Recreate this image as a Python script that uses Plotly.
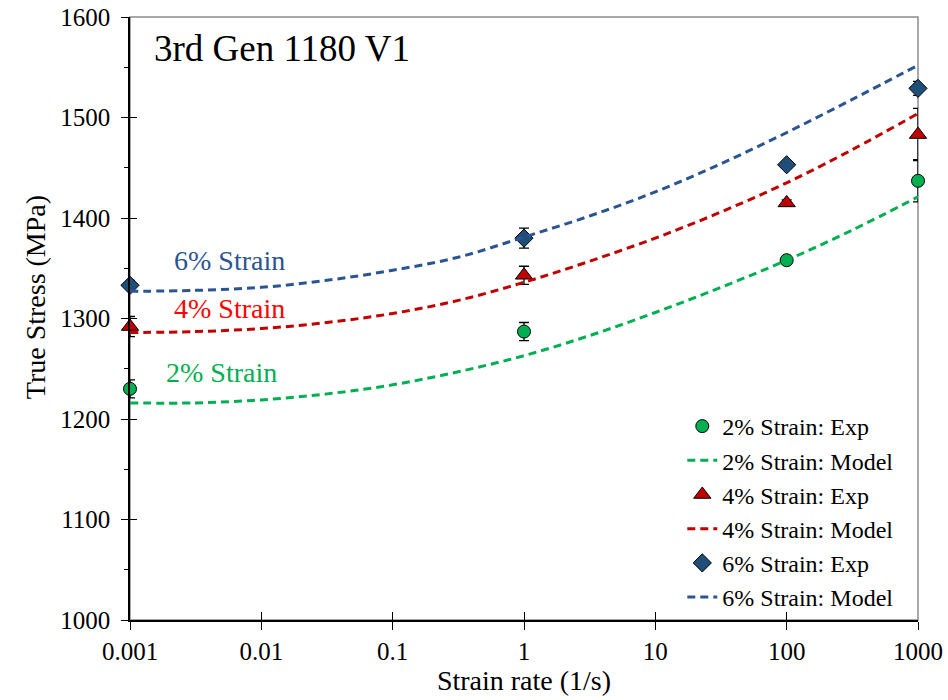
import plotly.graph_objects as go

# Experimental strain rates (1/s) and measured true stress (MPa)
rate_exp = [0.001, 1, 100, 1000]
exp_2 = [1230, 1287, 1358, 1437]
exp_4 = [1292, 1343, 1415, 1483]
exp_6 = [1333, 1380, 1453, 1529]
err_2 = [9, 9, 3, 21]
err_4 = [10, 9, 3, 26]
err_6 = [5, 10, 3, 7]

# Model predictions at half-decade strain rates
rate_model = [0.001, 0.00316, 0.01, 0.0316, 0.1, 0.316, 1, 3.16, 10, 31.6, 100, 316, 1000]
model_2 = [1216, 1216, 1219, 1225, 1234, 1247, 1263, 1283, 1306, 1331, 1358, 1388, 1421]
model_4 = [1286, 1287, 1290, 1296, 1305, 1318, 1336, 1357, 1380, 1406, 1435, 1468, 1504]
model_6 = [1327, 1328, 1331, 1338, 1348, 1361, 1381, 1402, 1426, 1454, 1485, 1518, 1552]

x_ticks = [0.001, 0.01, 0.1, 1, 10, 100, 1000]
x_ticktext = ["0.001", "0.01", "0.1", "1", "10", "100", "1000"]

FONT = "Liberation Serif"
GREEN, RED, BLUE = "#00B050", "#C00000", "#1F4E79"

series = [
    ("2%", exp_2, err_2, model_2, "circle", 13, GREEN, GREEN),
    ("4%", exp_4, err_4, model_4, "triangle-up", 15, RED, RED),
    ("6%", exp_6, err_6, model_6, "diamond", 14, BLUE, "#2B5592"),
]

fig = go.Figure()
for name, ys, errs, model, sym, size, mcol, lcol in series:
    fig.add_trace(go.Scatter(
        x=rate_exp, y=ys, mode="markers", name=f"{name} Strain: Exp", cliponaxis=False,
        marker=dict(symbol=sym, size=size, color=mcol, line=dict(color="black", width=1)),
        error_y=dict(type="data", array=errs, color="black", thickness=1.3, width=5),
    ))
    fig.add_trace(go.Scatter(
        x=rate_model, y=model, mode="lines", name=f"{name} Strain: Model",
        line=dict(color=lcol, width=3, dash="8px,5px", shape="spline"),
    ))

# Empty trace on overlay axes to draw inward halves of the tick marks
fig.add_trace(go.Scatter(x=[], y=[], xaxis="x2", yaxis="y2", showlegend=False, hoverinfo="skip"))

tickfont = dict(family=FONT, size=25, color="black")
fig.update_layout(
    width=948, height=700,
    margin=dict(l=130, r=30, t=17, b=80),
    paper_bgcolor="white", plot_bgcolor="white",
    font=dict(family=FONT, color="black"),
    xaxis=dict(
        type="log", range=[-3, 3], tickvals=x_ticks, ticktext=x_ticktext, automargin=False,
        showgrid=False, zeroline=False, showline=True, linecolor="black", linewidth=1.5,
        ticks="outside", ticklen=8, tickwidth=1.2, tickcolor="black", tickfont=tickfont,
        title=dict(text="Strain rate (1/s)", font=dict(family=FONT, size=28), standoff=4),
    ),
    yaxis=dict(
        range=[1000, 1600], dtick=100, showgrid=False, zeroline=False, automargin=False,
        showline=True, linecolor="black", linewidth=1.5,
        ticks="outside", ticklen=7, tickwidth=1.2, tickcolor="black", tickfont=tickfont,
        ticklabelstandoff=6,
        minor=dict(dtick=50, ticks="outside", ticklen=4, tickcolor="black", tickwidth=1),
    ),
    xaxis2=dict(
        type="log", range=[-3, 3], tickvals=x_ticks, overlaying="x", anchor="y2",
        showticklabels=False, showgrid=False, zeroline=False, showline=False, automargin=False,
        ticks="inside", ticklen=8, tickwidth=1.2, tickcolor="black",
    ),
    yaxis2=dict(
        range=[1000, 1600], dtick=100, overlaying="y", anchor="x2", side="left",
        showticklabels=False, showgrid=False, zeroline=False, showline=False, automargin=False,
        ticks="inside", ticklen=7, tickwidth=1.2, tickcolor="black",
    ),
    legend=dict(
        x=0.975, xanchor="right", y=0.0, yanchor="bottom",
        bgcolor="rgba(0,0,0,0)", font=dict(family=FONT, size=24, color="black"),
        tracegroupgap=0, itemwidth=30,
    ),
    showlegend=True,
    shapes=[dict(
        type="rect", xref="paper", yref="paper", x0=0, x1=1, y0=0, y1=1,
        line=dict(color="#8C8C8C", width=1.5), layer="below",
    )],
    annotations=[
        dict(text="True Stress (MPa)", xref="paper", yref="paper", x=-0.12, y=0.536,
             xanchor="center", yanchor="middle", textangle=-90, showarrow=False,
             font=dict(family=FONT, size=28, color="black")),
        dict(text="3rd Gen 1180 V1", xref="paper", yref="paper", x=0.028, y=0.985,
             xanchor="left", yanchor="top", showarrow=False,
             font=dict(family=FONT, size=37, color="black")),
        dict(text="6% Strain", x=-2.24, y=1358, showarrow=False,
             font=dict(family=FONT, size=28, color="#2B5592")),
        dict(text="4% Strain", x=-2.24, y=1310, showarrow=False,
             font=dict(family=FONT, size=28, color="#FF0000")),
        dict(text="2% Strain", x=-2.3, y=1246, showarrow=False,
             font=dict(family=FONT, size=28, color=GREEN)),
    ],
)

fig.write_html("out.html")
